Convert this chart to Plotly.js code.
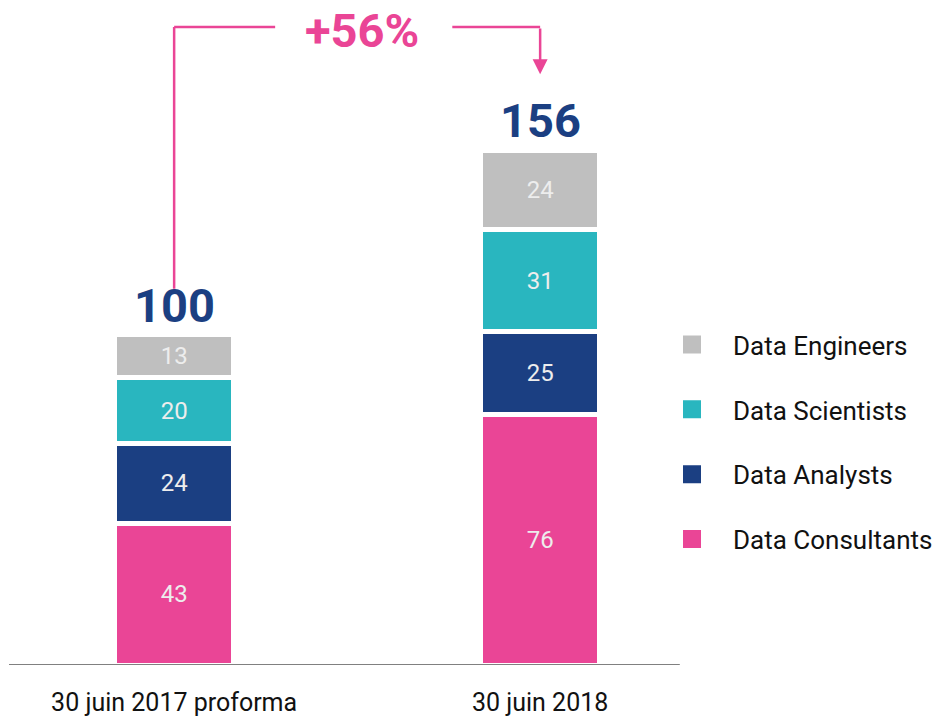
<!DOCTYPE html>
<html>
<head>
<meta charset="utf-8">
<script src="https://cdn.plot.ly/plotly-3.0.1.min.js"></script>
<style>html,body{margin:0;padding:0;background:#fff;}#chart{width:938px;height:717px;}</style>
</head>
<body>
<div id="chart"></div>
<script>
const categories = ["30 juin 2017 proforma", "30 juin 2018"];
const seriesNames = ["Data Consultants", "Data Analysts", "Data Scientists", "Data Engineers"];
const consultants = [43, 76];
const analysts = [24, 25];
const scientists = [20, 31];
const engineers = [13, 24];
const totals = [100, 156];
const growthLabel = "+56%";

const colors = {
  "Data Consultants": "#EA4596",
  "Data Analysts": "#1B3F82",
  "Data Scientists": "#29B6BF",
  "Data Engineers": "#BFBFBF"
};
const seriesValues = [consultants, analysts, scientists, engineers];
const xIdx = categories.map((c, i) => i);

const traces = [];
seriesNames.forEach((name, k) => {
  traces.push({
    type: "bar",
    name: name,
    x: xIdx,
    y: seriesValues[k],
    width: 0.325,
    marker: {color: colors[name], line: {color: "#ffffff", width: 5}},
    text: seriesValues[k].map(String),
    textposition: "inside",
    insidetextanchor: "middle",
    textfont: {family: "Roboto", size: 24, color: "#EDEDED"},
    showlegend: false,
    hoverinfo: "skip"
  });
});
// legend entries (top to bottom)
["Data Engineers", "Data Scientists", "Data Analysts", "Data Consultants"].forEach(name => {
  traces.push({
    type: "scatter", mode: "markers", name: name,
    x: [null], y: [null],
    legendgroup: name,
    marker: {symbol: "square", size: 18, color: colors[name], line: {color: colors[name], width: 2}},
    showlegend: true
  });
});

const annotations = totals.map((t, i) => ({
  x: xIdx[i], y: t, xref: "x", yref: "y",
  text: "<b>" + t + "</b>", showarrow: false,
  yanchor: "bottom", yshift: 0,
  font: {family: "Roboto", size: 47, color: "#1B3F82"}
}));
const topY = 193.3;
annotations.push({
  x: 0.514, y: topY, xref: "x", yref: "y",
  text: "<b>" + growthLabel + "</b>", showarrow: false, yshift: -3,
  font: {family: "Roboto", size: 47, color: "#EA4596"}
});
annotations.push({
  x: xIdx[1], y: totals[1] + 23, xref: "x", yref: "y",
  ax: xIdx[1], ay: topY, axref: "x", ayref: "y",
  text: "", showarrow: true, arrowhead: 2, arrowsize: 1.2, arrowwidth: 2.5, arrowcolor: "#EA4596"
});

const pink = "#EA4596";
const shapes = [
  {type: "line", xref: "x", yref: "y", x0: xIdx[0], x1: xIdx[0], y0: totals[0] + 14, y1: topY, line: {color: pink, width: 2.5}},
  {type: "line", xref: "x", yref: "y", x0: xIdx[0], x1: 0.276, y0: topY, y1: topY, line: {color: pink, width: 2.5}},
  {type: "line", xref: "x", yref: "y", x0: 0.76, x1: xIdx[1], y0: topY, y1: topY, line: {color: pink, width: 2.5}},
  {type: "line", xref: "paper", yref: "y", x0: -0.0047, x1: 1.05, y0: 0, y1: 0, layer: "above", line: {color: "#808080", width: 2}}
];

const layout = {
  width: 938, height: 717,
  margin: {l: 12, r: 290, t: 0, b: 52},
  paper_bgcolor: "#ffffff", plot_bgcolor: "#ffffff",
  barmode: "stack",
  font: {family: "Roboto", color: "#000"},
  xaxis: {
    range: [-0.443, 1.2947],
    tickvals: xIdx, ticktext: categories,
    tickfont: {family: "Roboto", size: 25, color: "#111"},
    showgrid: false, zeroline: false, showline: false, ticks: "",
    ticklabelstandoff: 20
  },
  yaxis: {range: [0, 201.5], visible: false, showgrid: false, zeroline: false},
  showlegend: true,
  legend: {
    xref: "container", yref: "container",
    x: 1, xanchor: "right", y: 0.3833, yanchor: "middle",
    traceorder: "grouped", tracegroupgap: 28, itemwidth: 72,
    font: {family: "Roboto", size: 26, color: "#111"},
    bgcolor: "rgba(0,0,0,0)"
  },
  annotations: annotations,
  shapes: shapes
};

Plotly.newPlot("chart", traces, layout, {displayModeBar: false, staticPlot: true});
</script>
</body>
</html>
